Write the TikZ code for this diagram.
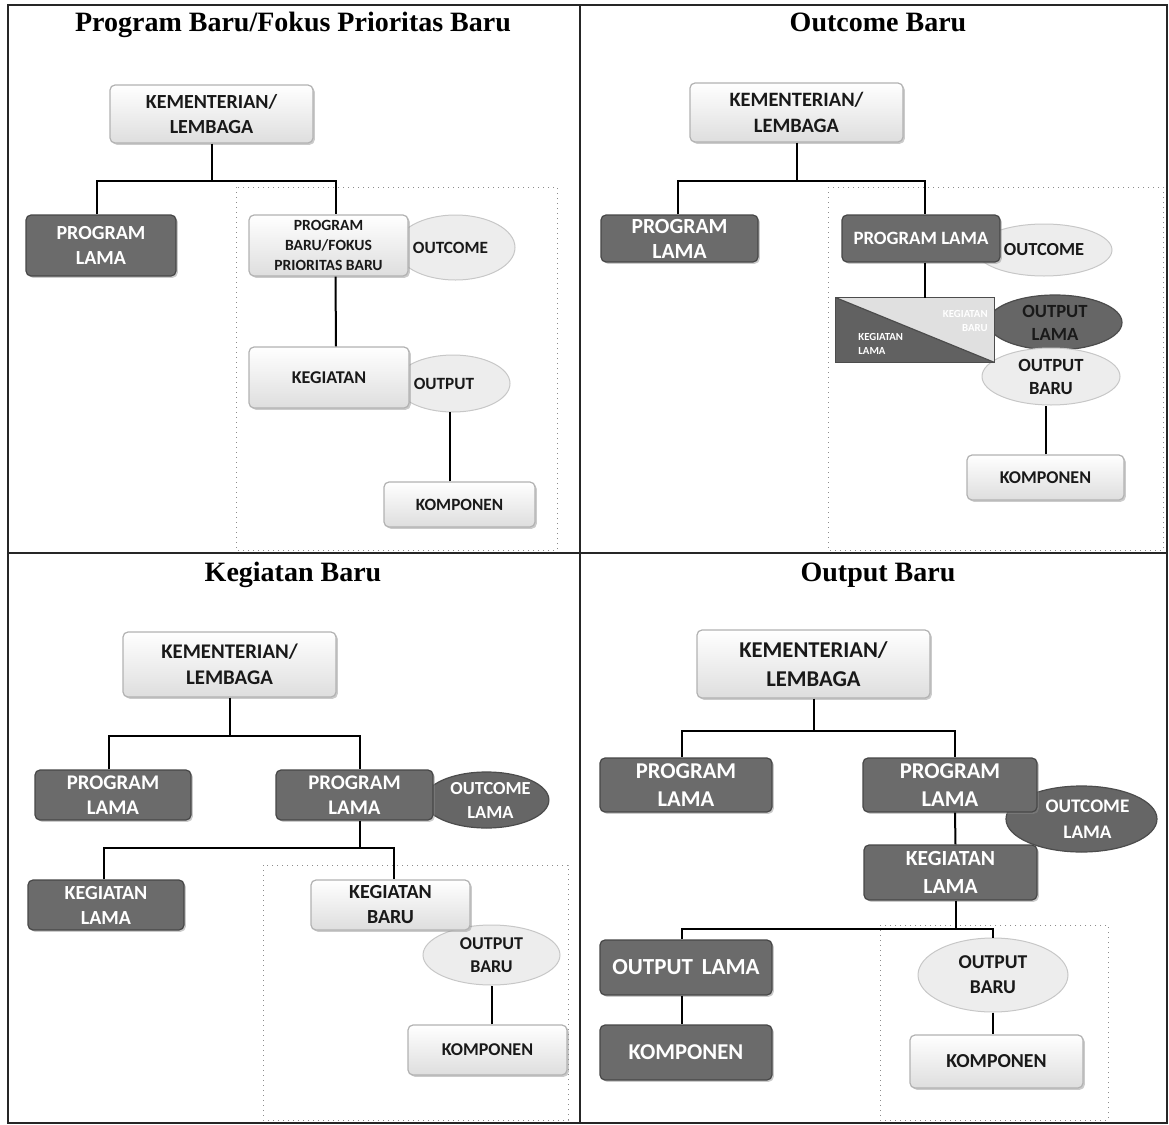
\documentclass[tikz,border=0pt]{standalone}
\usepackage{fontspec}
\setmainfont{Liberation Serif}
\setsansfont{Carlito}
\usetikzlibrary{shapes.geometric,shadows}

% name, x1, y1, x2, y2, style, text  (corner coordinates in pixel units)
\newcommand\chartnode[7]{%
  \node[#6, minimum width={(#4-#2)*0.5pt}, minimum height={(#5-#3)*0.5pt}]
    (#1) at ({(#2+#4)/2},{(#3+#5)/2}) {#7};}

\tikzset{
  cbase/.style={inner sep=0pt, align=center, font=\sffamily\bfseries},
  fs/.style 2 args={font=\sffamily\bfseries\fontsize{#1}{#2}\selectfont},
  softshadow/.style={drop shadow={shadow xshift=0.9pt, shadow yshift=-0.9pt, fill=black!45, opacity=0.45}},
  lightbox/.style={cbase, rectangle, rounded corners=2.5pt, draw=black!30, line width=0.6pt,
    top color=white, bottom color=black!13, text=black!90, softshadow},
  darkbox/.style={cbase, rectangle, rounded corners=2.5pt, draw=black!72, line width=0.6pt,
    fill=black!58, text=white, softshadow},
  lightoval/.style={cbase, ellipse, draw=black!22, line width=0.5pt, fill=black!7, text=black!90},
  darkoval/.style={cbase, ellipse, draw=black!70, line width=0.6pt, fill=black!60, text=white},
  conn/.style={line width=1pt, black},
  newzone/.style={draw=black!45, dotted, line width=0.5pt},
  outerframe/.style={line width=0.8pt, black!85},
  paneltitle/.style={font=\bfseries\fontsize{14}{16}\selectfont, inner sep=0pt, anchor=base}
}

\begin{document}
\begin{tikzpicture}[x=0.5pt, y=-0.5pt]
\useasboundingbox (0,0) rectangle (1169,1125);

% frame and panel dividers
\draw[outerframe] (8,5) rectangle (1167,1123);
\draw[outerframe] (580,5) -- (580,1123);
\draw[outerframe] (8,553) -- (1167,553);

% panel titles
\node[paneltitle] (t1) at (293,31) {Program Baru/Fokus Prioritas Baru};
\node[paneltitle] (t2) at (878,31) {Outcome Baru};
\node[paneltitle] (t3) at (293,581) {Kegiatan Baru};
\node[paneltitle] (t4) at (878,581) {Output Baru};

% ---------------- Program Baru / Fokus Prioritas Baru ----------------
\draw[newzone] (236,187) rectangle (557,550);
\chartnode{k1}{110}{85}{313}{143}{lightbox, fs={10}{12.5}}{KEMENTERIAN/\\LEMBAGA}
\chartnode{pl1}{26}{215}{176}{276}{darkbox, fs={10}{12.5}}{PROGRAM\\LAMA}
\chartnode{oc1}{396}{215}{515}{280}{lightoval, fs={8.6}{10}}{\hspace*{-5pt}OUTCOME}
\chartnode{pb1}{249}{215}{408}{276}{lightbox, fs={7.8}{9.8}}{PROGRAM\\BARU/FOKUS\\PRIORITAS BARU}
\chartnode{op1}{396}{355}{510}{412}{lightoval, fs={8.6}{10}}{\hspace*{-9pt}OUTPUT}
\chartnode{kg1}{249}{347}{409}{408}{lightbox, fs={9}{11}}{KEGIATAN}
\chartnode{km1}{384}{482}{535}{527}{lightbox, fs={8.6}{10}}{KOMPONEN}

\draw[conn] (k1.south) -- ++(0,37) coordinate (j1);
\draw[conn] ([xshift=-2pt]pl1.north) |- (j1) -| ([xshift=3.5pt]pb1.north);
\draw[conn] ([xshift=3.5pt]pb1.south) -- ([xshift=3.5pt]kg1.north);
\draw[conn] (km1.north -| 450,0) -- (450,412);

% ---------------- Outcome Baru ----------------
\draw[newzone] (828,187) rectangle (1163,550);
\chartnode{k2}{690}{83}{903}{142}{lightbox, fs={10.2}{12.8}}{KEMENTERIAN/\\LEMBAGA}
\chartnode{pl2}{601}{215}{758}{262}{darkbox, fs={10.8}{12.5}}{PROGRAM\\LAMA}
\chartnode{oc2}{976}{224}{1112}{276}{lightoval, fs={9.2}{11}}{OUTCOME}
\chartnode{pr2}{842}{215}{1000}{262}{darkbox, fs={9.4}{11}}{PROGRAM LAMA}
\chartnode{ol2}{988}{295}{1122}{350}{darkoval, text=black!90, fs={9.3}{11.5}}{OUTPUT\\LAMA}
\chartnode{ob2}{982}{348}{1120}{405}{lightoval, fs={9.3}{11.5}}{OUTPUT\\BARU}
% split box: old activity (lower left) and new activity (upper right)
\node[inner sep=0pt, minimum width=79pt, minimum height=32pt] (sp2) at (915,330) {};
\fill[black!62] (sp2.north west) -- (sp2.south west) -- (sp2.south east) -- cycle;
\fill[black!12] (sp2.north west) -- (sp2.north east) -- (sp2.south east) -- cycle;
\draw[black!70, line width=0.6pt] (sp2.north west) rectangle (sp2.south east);
\draw[black!70, line width=0.6pt] (sp2.north west) -- (sp2.south east);
\node[cbase, fs={5.4}{6.8}, text=white, align=left, anchor=west] (kl2) at (858,344) {KEGIATAN\\LAMA};
\node[cbase, fs={5.4}{6.8}, text=white, align=right, anchor=east] (kb2) at (988,321) {KEGIATAN\\BARU};
\chartnode{km2}{967}{455}{1124}{500}{lightbox, fs={9}{11}}{KOMPONEN}

\draw[conn] (k2.south) -- ++(0,38) coordinate (j2);
\draw[conn] ([xshift=-1pt]pl2.north) |- (j2) -| ([xshift=2pt]pr2.north);
\draw[conn] ([xshift=2pt]pr2.south) -- ([xshift=2pt]pr2.south |- sp2.north);
\draw[conn] (km2.north) -- (km2.north |- ob2.south);

% ---------------- Kegiatan Baru ----------------
\draw[newzone] (263,865) rectangle (568,1120);
\chartnode{k3}{123}{632}{336}{697}{lightbox, fs={10.4}{13}}{KEMENTERIAN/\\LEMBAGA}
\chartnode{pl3}{35}{770}{191}{820}{darkbox, fs={10.4}{12.5}}{PROGRAM\\LAMA}
\chartnode{oc3}{426}{772}{547}{828}{darkoval, fs={9.2}{12}}{\hspace*{4pt}OUTCOME\\\hspace*{4pt}LAMA}
\chartnode{pr3}{276}{770}{433}{820}{darkbox, fs={10.4}{12.5}}{PROGRAM\\LAMA}
\chartnode{kl3}{28}{880}{184}{930}{darkbox, fs={10}{12.5}}{KEGIATAN\\LAMA}
\chartnode{ob3}{423}{925}{560}{985}{lightoval, fs={9}{11.5}}{OUTPUT\\BARU}
\chartnode{kb3}{311}{880}{470}{930}{lightbox, fs={10}{12.5}}{KEGIATAN\\BARU}
\chartnode{km3}{408}{1025}{567}{1075}{lightbox, fs={9}{11}}{KOMPONEN}

\draw[conn] (k3.south) -- ++(0,38) coordinate (j3);
\draw[conn] ([xshift=-2pt]pl3.north) |- (j3) -| ([xshift=2.5pt]pr3.north);
\draw[conn] ([xshift=2.5pt]pr3.south) -- ++(0,27) coordinate (j3b);
\draw[conn] ([xshift=-1pt]kl3.north) |- (j3b) -| ([xshift=1.5pt]kb3.north);
\draw[conn] ([xshift=2pt]km3.north) -- ([xshift=2pt]km3.north |- ob3.south);

% ---------------- Output Baru ----------------
\draw[newzone] (880,925) rectangle (1108,1120);
\chartnode{k4}{697}{630}{930}{698}{lightbox, fs={11.3}{14.5}}{KEMENTERIAN/\\LEMBAGA}
\chartnode{pl4}{600}{758}{772}{812}{darkbox, fs={11.3}{14}}{PROGRAM\\LAMA}
\chartnode{oc4}{1006}{786}{1157}{852}{darkoval, fs={9.6}{13}}{\hspace*{6pt}OUTCOME\\\hspace*{6pt}LAMA}
\chartnode{pr4}{863}{758}{1037}{812}{darkbox, fs={11.3}{14}}{PROGRAM\\LAMA}
\chartnode{kl4}{864}{845}{1037}{900}{darkbox, fs={10.8}{14}}{KEGIATAN\\LAMA}
\chartnode{ol4}{600}{940}{772}{995}{darkbox, fs={11.5}{13}}{OUTPUT\, LAMA}
\chartnode{kd4}{600}{1025}{772}{1080}{darkbox, fs={11.3}{13}}{KOMPONEN}
\chartnode{ob4}{918}{938}{1068}{1012}{lightoval, fs={9.8}{12.5}}{OUTPUT\\BARU}
\chartnode{km4}{910}{1035}{1083}{1088}{lightbox, fs={9.9}{12}}{KOMPONEN}

\draw[conn] (k4.south) -- ++(0,32) coordinate (j4);
\draw[conn] ([xshift=-2pt]pl4.north) |- (j4) -| ([xshift=2.5pt]pr4.north);
\draw[conn] ([xshift=2.5pt]pr4.south) -- ([xshift=2.5pt]kl4.north);
\draw[conn] ([xshift=2.5pt]kl4.south) -- ++(0,28) coordinate (j4b);
\draw[conn] ([xshift=-2pt]ol4.north) |- (j4b) -| (ob4.north);
\draw[conn] ([xshift=-2pt]ol4.south) -- ([xshift=-2pt]kd4.north);
\draw[conn] (ob4.south) -- (ob4.south |- km4.north);
\end{tikzpicture}
\end{document}
